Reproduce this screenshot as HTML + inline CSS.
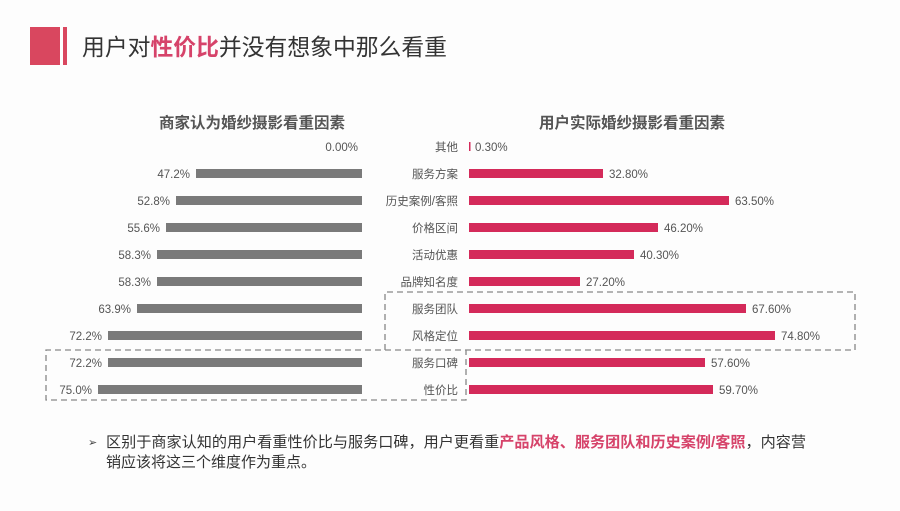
<!DOCTYPE html>
<html><head><meta charset="utf-8"><style>
html,body{margin:0;padding:0;background:#fff;}
svg{display:block;font-family:"Liberation Sans","Noto Sans CJK SC",sans-serif;}
</style></head><body>
<svg width="900" height="511" viewBox="0 0 900 511">
<rect width="900" height="511" fill="#fdfdfd"/>
<rect x="30" y="27" width="30" height="38" fill="#d9475f"/>
<rect x="63" y="27" width="4" height="38" fill="#d9475f"/>
<text x="82" y="55" font-size="23" fill="#333" textLength="365" lengthAdjust="spacingAndGlyphs">用户对<tspan fill="#d6436a" font-weight="bold">性价比</tspan>并没有想象中那么看重</text>
<text x="252" y="128" font-size="15.5" font-weight="bold" fill="#555" text-anchor="middle">商家认为婚纱摄影看重因素</text>
<text x="632" y="128" font-size="15.5" font-weight="bold" fill="#555" text-anchor="middle">用户实际婚纱摄影看重因素</text>
<g font-size="11.5" fill="#555">
<g fill="#7a7a7a">
<rect x="196" y="169" width="166" height="9"/>
<rect x="176" y="196" width="186" height="9"/>
<rect x="166" y="223" width="196" height="9"/>
<rect x="157" y="250" width="205" height="9"/>
<rect x="157" y="277" width="205" height="9"/>
<rect x="137" y="304" width="225" height="9"/>
<rect x="108" y="331" width="254" height="9"/>
<rect x="108" y="358" width="254" height="9"/>
<rect x="98" y="385" width="264" height="9"/>
</g>
<g text-anchor="end">
<text x="358" y="151">0.00%</text>
<text x="190" y="178">47.2%</text>
<text x="170" y="205">52.8%</text>
<text x="160" y="232">55.6%</text>
<text x="151" y="259">58.3%</text>
<text x="151" y="286">58.3%</text>
<text x="131" y="313">63.9%</text>
<text x="102" y="340">72.2%</text>
<text x="102" y="367">72.2%</text>
<text x="92" y="394">75.0%</text>
</g>
<g text-anchor="end">
<text x="458" y="151">其他</text>
<text x="458" y="178">服务方案</text>
<text x="458" y="205">历史案例/客照</text>
<text x="458" y="232">价格区间</text>
<text x="458" y="259">活动优惠</text>
<text x="458" y="286">品牌知名度</text>
<text x="458" y="313">服务团队</text>
<text x="458" y="340">风格定位</text>
<text x="458" y="367">服务口碑</text>
<text x="458" y="394">性价比</text>
</g>
<g fill="#d42a5a">
<rect x="469" y="142" width="1.5" height="9"/>
<rect x="469" y="169" width="134" height="9"/>
<rect x="469" y="196" width="260" height="9"/>
<rect x="469" y="223" width="189" height="9"/>
<rect x="469" y="250" width="165" height="9"/>
<rect x="469" y="277" width="111" height="9"/>
<rect x="469" y="304" width="277" height="9"/>
<rect x="469" y="331" width="306" height="9"/>
<rect x="469" y="358" width="236" height="9"/>
<rect x="469" y="385" width="244" height="9"/>
</g>
<text x="475" y="151">0.30%</text>
<text x="609" y="178">32.80%</text>
<text x="735" y="205">63.50%</text>
<text x="664" y="232">46.20%</text>
<text x="640" y="259">40.30%</text>
<text x="586" y="286">27.20%</text>
<text x="752" y="313">67.60%</text>
<text x="781" y="340">74.80%</text>
<text x="711" y="367">57.60%</text>
<text x="719" y="394">59.70%</text>
</g>
<g fill="none" stroke="#888" stroke-width="1.3" stroke-dasharray="6,4">
<path d="M385 350 V292 H855 V350 H46 V400 H466 V350"/>
</g>
<text x="88" y="446" font-size="11" fill="#444">➢</text>
<text x="106" y="447" font-size="15" fill="#333" textLength="700" lengthAdjust="spacingAndGlyphs">区别于商家认知的用户看重性价比与服务口碑，用户更看重<tspan fill="#d6436a" font-weight="bold">产品风格、服务团队和历史案例/客照</tspan>，内容营</text>
<text x="106" y="467" font-size="15" fill="#333">销应该将这三个维度作为重点。</text>
</svg>
</body></html>
